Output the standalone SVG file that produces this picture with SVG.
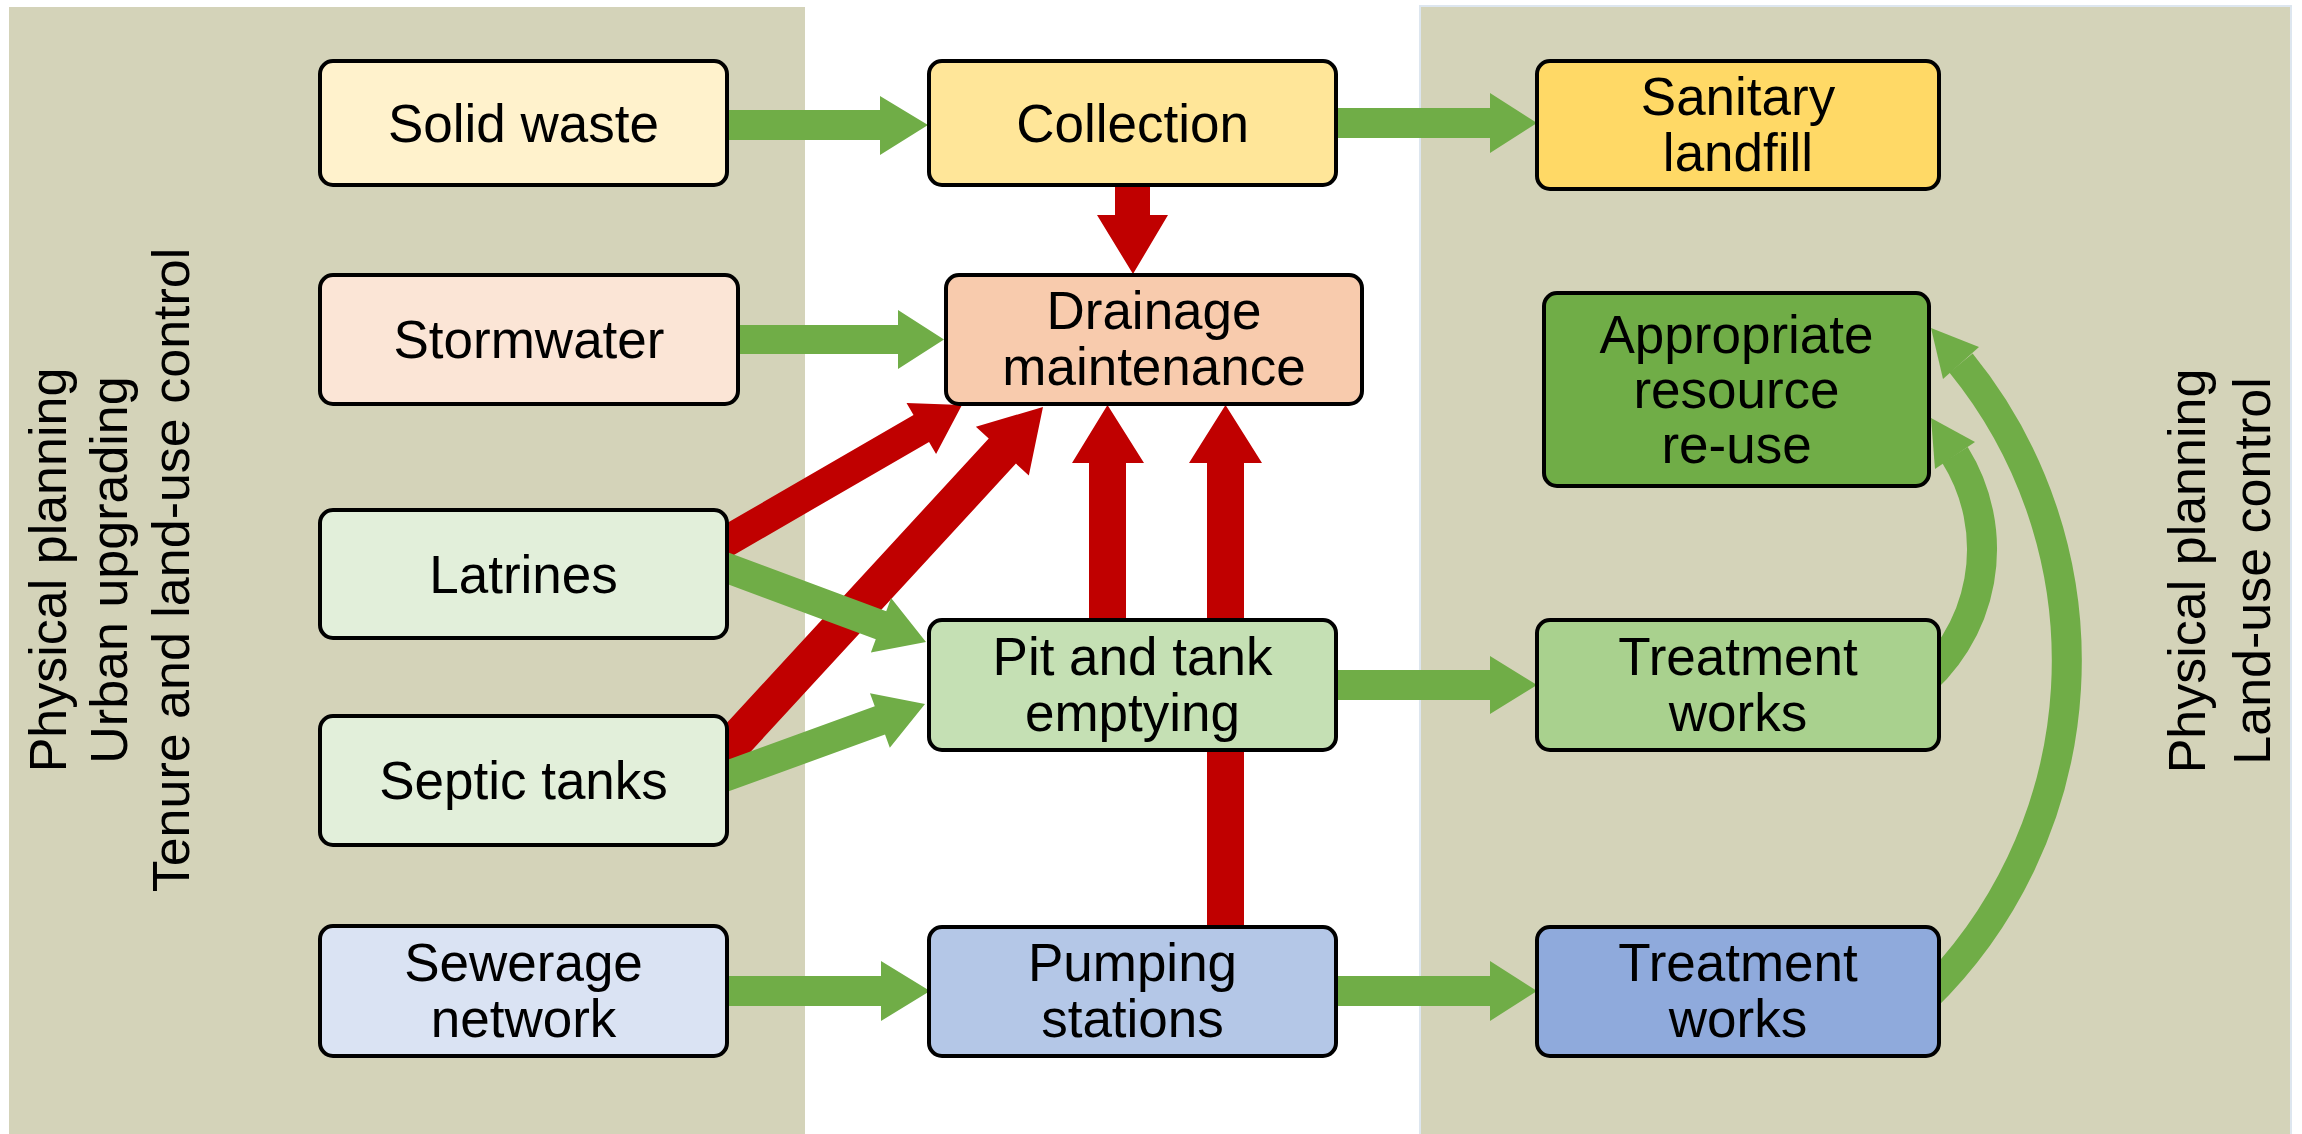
<svg xmlns="http://www.w3.org/2000/svg" width="2302" height="1134" viewBox="0 0 2302 1134">
  <style>
    .panel { fill: #d4d3b9; }
    .side { font-family: "Liberation Sans", Arial, sans-serif; font-size: 52px; fill: #000; text-anchor: middle; }
    .box { stroke: #000; stroke-width: 4; }
    .lbl { font-family: "Liberation Sans", Arial, sans-serif; font-size: 53px; fill: #000; text-anchor: middle; }
    .red { fill: #c00000; }
    .grn { fill: #70ad47; }
    .arc { fill: none; stroke: #70ad47; stroke-width: 30; }
  </style>
  <rect x="0" y="0" width="2302" height="1134" fill="#ffffff"/>
  <g id="panels">
    <rect class="panel" x="9" y="7" width="796" height="1130"/>
    <rect class="panel" x="1420" y="6" width="871" height="1131" stroke="#dde6ef" stroke-width="2"/>
    <text class="side" transform="translate(66,570) rotate(-90)">Physical planning</text>
    <text class="side" transform="translate(127,570) rotate(-90)">Urban upgrading</text>
    <text class="side" transform="translate(189,570) rotate(-90)">Tenure and land-use control</text>
    <text class="side" transform="translate(2205,571) rotate(-90)">Physical planning</text>
    <text class="side" transform="translate(2270,571) rotate(-90)">Land-use control</text>
  </g>
  <g id="connectors">
    <!-- red arrows -->
    <path class="red" transform="translate(727,541) rotate(-30.07)" d="M -30 -15.5 L 224.5 -15.5 L 224.5 -29.5 L 271.5 0 L 224.5 29.5 L 224.5 15.5 L -30 15.5 Z"/>
    <path class="red" transform="translate(727,750) rotate(-47.35)" d="M -35 -18.5 L 406.4 -18.5 L 406.4 -36 L 466.4 0 L 406.4 36 L 406.4 18.5 L -35 18.5 Z"/>
    <path class="red" d="M 1115 175 L 1150 175 L 1150 215 L 1168 215 L 1133 274 L 1097 215 L 1115 215 Z"/>
    <path class="red" d="M 1089 635 L 1089 463 L 1072 463 L 1107.5 405 L 1144 463 L 1126 463 L 1126 635 Z"/>
    <path class="red" d="M 1207 940 L 1207 463 L 1189 463 L 1225.5 405 L 1262 463 L 1244 463 L 1244 940 Z"/>
    <!-- green diagonal arrows -->
    <path class="grn" transform="translate(727,568) rotate(20.4)" d="M -30 -15 L 164.3 -15 L 164.3 -29 L 212.3 0 L 164.3 29 L 164.3 15 L -30 15 Z"/>
    <path class="grn" transform="translate(727,776) rotate(-19.99)" d="M -30 -15 L 162.7 -15 L 162.7 -29 L 210.7 0 L 162.7 29 L 162.7 15 L -30 15 Z"/>
    <!-- green horizontal arrows -->
    <path class="grn" d="M 715 110 L 880 110 L 880 96 L 928 125 L 880 155 L 880 140 L 715 140 Z"/>
    <path class="grn" d="M 1325 108 L 1490 108 L 1490 93 L 1537 123 L 1490 153 L 1490 138 L 1325 138 Z"/>
    <path class="grn" d="M 725 325 L 898 325 L 898 310 L 944 339.5 L 898 369 L 898 354 L 725 354 Z"/>
    <path class="grn" d="M 1325 670 L 1490 670 L 1490 656 L 1537 685 L 1490 714 L 1490 700 L 1325 700 Z"/>
    <path class="grn" d="M 715 976 L 881 976 L 881 961 L 930 991 L 881 1021 L 881 1006 L 715 1006 Z"/>
    <path class="grn" d="M 1325 976 L 1490 976 L 1490 961 L 1537 991 L 1490 1021 L 1490 1006 L 1325 1006 Z"/>
    <!-- curved green arrows -->
    <path class="arc" d="M 1923 1000 A 472 472 0 0 0 1961 363"/>
    <path class="grn" d="M 1931 328 L 1979 347 L 1943 379 Z"/>
    <path class="arc" d="M 1913 690 A 178 178 0 0 0 1955 455"/>
    <path class="grn" d="M 1931 418 L 1975 442 L 1935 469 Z"/>
  </g>
  <g id="solid-waste">
    <rect class="box" x="320" y="61" width="407" height="124" rx="13" fill="#fff2cc"/>
    <text class="lbl" x="523.5" y="142">Solid waste</text>
  </g>
  <g id="collection">
    <rect class="box" x="929" y="61" width="407" height="124" rx="13" fill="#ffe699"/>
    <text class="lbl" x="1132.5" y="142">Collection</text>
  </g>
  <g id="sanitary-landfill">
    <rect class="box" x="1537" y="61" width="402" height="128" rx="13" fill="#ffd966"/>
    <text class="lbl" x="1738" y="115">Sanitary</text>
    <text class="lbl" x="1738" y="171">landfill</text>
  </g>
  <g id="stormwater">
    <rect class="box" x="320" y="275" width="418" height="129" rx="13" fill="#fbe5d6"/>
    <text class="lbl" x="529" y="358">Stormwater</text>
  </g>
  <g id="drainage-maintenance">
    <rect class="box" x="946" y="275" width="416" height="129" rx="13" fill="#f8cbad"/>
    <text class="lbl" x="1154" y="329">Drainage</text>
    <text class="lbl" x="1154" y="385">maintenance</text>
  </g>
  <g id="resource-reuse">
    <rect class="box" x="1544" y="293" width="385" height="193" rx="13" fill="#70ad47"/>
    <text class="lbl" x="1736.5" y="353">Appropriate</text>
    <text class="lbl" x="1736.5" y="408">resource</text>
    <text class="lbl" x="1736.5" y="463">re-use</text>
  </g>
  <g id="latrines">
    <rect class="box" x="320" y="510" width="407" height="128" rx="13" fill="#e2efda"/>
    <text class="lbl" x="523.5" y="593">Latrines</text>
  </g>
  <g id="pit-tank-emptying">
    <rect class="box" x="929" y="620" width="407" height="130" rx="13" fill="#c5e0b4"/>
    <text class="lbl" x="1132.5" y="675">Pit and tank</text>
    <text class="lbl" x="1132.5" y="731">emptying</text>
  </g>
  <g id="treatment-works-1">
    <rect class="box" x="1537" y="620" width="402" height="130" rx="13" fill="#a9d18e"/>
    <text class="lbl" x="1738" y="675">Treatment</text>
    <text class="lbl" x="1738" y="731">works</text>
  </g>
  <g id="septic-tanks">
    <rect class="box" x="320" y="716" width="407" height="129" rx="13" fill="#e2efda"/>
    <text class="lbl" x="523.5" y="799">Septic tanks</text>
  </g>
  <g id="sewerage-network">
    <rect class="box" x="320" y="926" width="407" height="130" rx="13" fill="#dae3f3"/>
    <text class="lbl" x="523.5" y="981">Sewerage</text>
    <text class="lbl" x="523.5" y="1037">network</text>
  </g>
  <g id="pumping-stations">
    <rect class="box" x="929" y="927" width="407" height="129" rx="13" fill="#b4c7e7"/>
    <text class="lbl" x="1132.5" y="981">Pumping</text>
    <text class="lbl" x="1132.5" y="1037">stations</text>
  </g>
  <g id="treatment-works-2">
    <rect class="box" x="1537" y="927" width="402" height="129" rx="13" fill="#8faadc"/>
    <text class="lbl" x="1738" y="981">Treatment</text>
    <text class="lbl" x="1738" y="1037">works</text>
  </g>
</svg>
